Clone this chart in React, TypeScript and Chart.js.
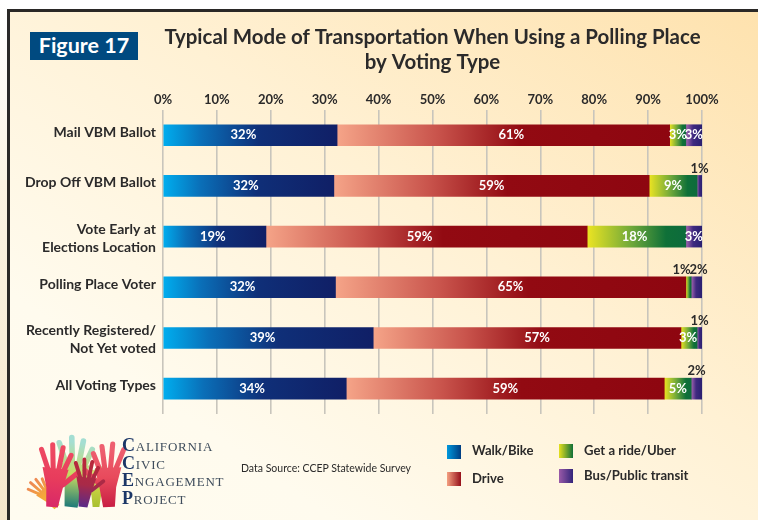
import React, { useEffect, useRef } from "react";
import { Chart, registerables } from "chart.js";

Chart.register(...registerables);

const categories: (string | string[])[] = [
  "Mail VBM Ballot",
  "Drop Off VBM Ballot",
  ["Vote Early at", "Elections Location"],
  "Polling Place Voter",
  ["Recently Registered/", "Not Yet voted"],
  "All Voting Types",
];

const walkBike = [32.3, 31.7, 19.1, 32, 39, 34];
const drive = [61.7, 58.5, 59.6, 65, 57.1, 59];
const getRide = [3, 8.9, 18.3, 1, 3, 5];
const busTransit = [3, 0.9, 3, 2, 0.9, 2];

const walkLabels = ["32%", "32%", "19%", "32%", "39%", "34%"];
const driveLabels = ["61%", "59%", "59%", "65%", "57%", "59%"];
const rideLabels = ["3%", "9%", "18%", "1%", "3%", "5%"];
const busLabels = ["3%", "1%", "3%", "2%", "1%", "2%"];

const seriesNames = ["Walk/Bike", "Drive", "Get a ride/Uber", "Bus/Public transit"];
const seriesValues = [walkBike, drive, getRide, busTransit];
const seriesLabels = [walkLabels, driveLabels, rideLabels, busLabels];

const gradientStops: [number, string][][] = [
  [[0, "#00aeef"], [0.22, "#0a6fb8"], [0.55, "#0f2f78"], [1, "#101f66"]],
  [[0, "#f5a488"], [0.3, "#c9544c"], [0.55, "#920a12"], [1, "#8e0610"]],
  [[0, "#ece422"], [0.45, "#6fa83a"], [0.8, "#0f7038"], [1, "#0d6b3c"]],
  [[0, "#a565b0"], [0.45, "#3f2a80"], [1, "#2a1f70"]],
];

// label placement: [series][row] = horizontal nudge from the segment's centre
const labelNudge = [
  [-7, -3, -2, -7, -6, -3],
  [8, 0, -7, 0, 10, 0],
  [0, 0, -2, -7, -1, 0],
  [0, 0, 0, 2, 0, 0],
];
// rows whose label sits above the bar, by series
const labelsAbove = [
  [false, false, false, false, false, false],
  [false, false, false, false, false, false],
  [false, false, false, true, false, false],
  [false, true, false, true, true, true],
];
// vertical nudge of each category label from its bar's centre
const categoryNudge = [-3, -3.5, 2, -3, 1.5, -3.5];

const FONT = "Lato, Carlito, sans-serif";
const INK = "#2b2a2a";

const categoryLabelPlugin = {
  id: "categoryLabelNudge",
  beforeDraw(chart: any) {
    const y = chart.scales.y;
    y.getLabelItems().forEach((item: any, i: number) => {
      const [tx] = item.options.translation;
      item.options.translation = [tx, y.getPixelForTick(i) + categoryNudge[i]];
    });
  },
};

const valueLabelPlugin = {
  id: "valueLabels",
  afterDatasetsDraw(chart: any) {
    const { ctx } = chart;
    ctx.save();
    ctx.font = `bold 13px ${FONT}`;
    ctx.textAlign = "center";
    ctx.textBaseline = "middle";
    chart.data.datasets.forEach((_: any, s: number) => {
      const meta = chart.getDatasetMeta(s);
      meta.data.forEach((bar: any, i: number) => {
        const above = labelsAbove[s][i];
        const x = (bar.x + bar.base) / 2 + labelNudge[s][i];
        const y = above ? bar.y - bar.height / 2 - 7 : bar.y;
        ctx.fillStyle = above ? INK : "#ffffff";
        ctx.fillText(seriesLabels[s][i], x, y);
      });
    });
    ctx.restore();
  },
};

function segmentFill(s: number) {
  return (c: any) => {
    const scale = c.chart.scales.x;
    if (!scale || c.dataIndex === undefined) return gradientStops[s][0][1];
    let start = 0;
    for (let k = 0; k < s; k++) start += seriesValues[k][c.dataIndex];
    const end = start + seriesValues[s][c.dataIndex];
    const x0 = scale.getPixelForValue(start);
    const x1 = scale.getPixelForValue(end);
    if (!Number.isFinite(x0) || !Number.isFinite(x1)) return gradientStops[s][0][1];
    const g = c.chart.ctx.createLinearGradient(x0, 0, x1, 0);
    gradientStops[s].forEach(([p, col]) => g.addColorStop(p, col));
    return g;
  };
}

const swatches = [
  { name: seriesNames[0], x: 447, y: 445, tx: 472, ty: 450, bg: "linear-gradient(90deg,#0098dc,#003d82)" },
  { name: seriesNames[1], x: 447, y: 472, tx: 472, ty: 478, bg: "linear-gradient(90deg,#f4a080,#96101a)" },
  { name: seriesNames[2], x: 559, y: 444, tx: 584, ty: 450, bg: "linear-gradient(90deg,#e6e01e,#0f7038)" },
  { name: seriesNames[3], x: 559, y: 469, tx: 584, ty: 475, bg: "linear-gradient(90deg,#9a5aa8,#33257a)" },
];

const logoWords = ["CALIFORNIA", "CIVIC", "ENGAGEMENT", "PROJECT"];

type HandSpec = { x: number; rot: number; s: number; mirror?: boolean; top: string; mid: string; bottom: string; id: string };
const hands: HandSpec[] = [
  { id: "h1", x: 57, rot: -42, s: 0.56, top: "#ee8a52", mid: "#f4a83a", bottom: "#f0c030" },
  { id: "h3", x: 71, rot: 6, s: 1.08, top: "#a4ded2", mid: "#c8dc60", bottom: "#1f7a78" },
  { id: "h6", x: 96, rot: 0, s: 0.56, top: "#d8dc70", mid: "#c4d040", bottom: "#a8c030" },
  { id: "h2", x: 52, rot: 6, s: 0.97, top: "#ee4a62", mid: "#e83c5c", bottom: "#d82868" },
  { id: "h5", x: 109, rot: -2, s: 0.98, mirror: true, top: "#ee6070", mid: "#e84a5c", bottom: "#c81f44" },
  { id: "h4", x: 83, rot: 7, s: 0.74, top: "#b8283c", mid: "#a82a48", bottom: "#5a2a88" },
];

function Hand({ h }: { h: HandSpec }) {
  const paint = `url(#${h.id})`;
  const fingers: [number, number, number, number][] = [
    [-8, -38, -17, -58],
    [-3, -40, -6, -64],
    [3, -40, 5, -62],
    [8, -38, 14, -55],
    [9, -24, 23, -38],
  ];
  const sx = h.mirror ? -h.s : h.s;
  return (
    <g transform={`translate(${h.x} 507) rotate(${h.rot}) scale(${sx} ${h.s})`}>
      <defs>
        <linearGradient id={h.id} gradientUnits="userSpaceOnUse" x1="0" y1="-60" x2="0" y2="0">
          <stop offset="0" stopColor={h.top} />
          <stop offset="0.5" stopColor={h.mid} />
          <stop offset="1" stopColor={h.bottom} />
        </linearGradient>
      </defs>
      <path d="M-6 0 L-8 -20 L-14 -40 L13 -40 L9 -20 L6 0 Z" fill={paint} />
      {fingers.map((f, i) => (
        <line key={i} x1={f[0]} y1={f[1]} x2={f[2]} y2={f[3]} stroke={paint} strokeWidth={5.2} strokeLinecap="round" />
      ))}
    </g>
  );
}

export default function App() {
  const ref = useRef<HTMLCanvasElement>(null);

  useEffect(() => {
    document.body.style.margin = "0";
    const chart = new Chart(ref.current!, {
      type: "bar",
      plugins: [categoryLabelPlugin, valueLabelPlugin],
      data: {
        labels: categories as any,
        datasets: seriesNames.map((name, s) => ({
          label: name,
          data: seriesValues[s],
          backgroundColor: segmentFill(s),
          borderWidth: 0,
          barThickness: 21,
        })),
      },
      options: {
        indexAxis: "y",
        animation: false,
        responsive: false,
        layout: { padding: { top: 0, right: 56, bottom: 106, left: 0 } },
        plugins: {
          legend: { display: false },
          tooltip: { enabled: false },
          title: {
            display: true,
            text: ["Typical Mode of Transportation When Using a Polling Place", "by Voting Type"],
            fullSize: false,
            color: INK,
            font: { family: FONT, size: 20.45, weight: "bold", lineHeight: 1.22 },
            padding: { top: 25, bottom: 0 },
          },
        },
        scales: {
          x: {
            type: "linear",
            position: "top",
            stacked: true,
            min: 0,
            max: 100,
            ticks: {
              stepSize: 10,
              callback: (v: any) => `${v}%`,
              color: INK,
              font: { family: FONT, size: 13, weight: "bold" },
              padding: 2,
              maxRotation: 0,
            },
            grid: { color: "#c8c5bc", lineWidth: 1.6, drawTicks: false },
            border: { display: false },
            afterFit: (a: any) => { a.height = 35; },
          },
          y: {
            type: "category",
            stacked: true,
            ticks: {
              color: INK,
              font: { family: FONT, size: 14, weight: "bold", lineHeight: 1.33 },
              padding: 7,
              autoSkip: false,
            },
            grid: { display: false, drawTicks: false },
            border: { display: false },
            afterFit: (a: any) => { a.width = 163; },
          },
        },
      } as any,
    });
    return () => chart.destroy();
  }, []);

  const abs: React.CSSProperties = { position: "absolute" };
  return (
    <div style={{ position: "fixed", left: 0, top: 0, width: 758, height: 520, overflow: "hidden", background: "#fff", fontFamily: FONT }}>
      <div style={{ ...abs, left: 0, top: 0, width: 8, height: 520, background: "linear-gradient(180deg,#ffffff 0%,#fbf3e3 35%,#f5e6cb 100%)" }} />
      <div style={{ ...abs, left: 7, top: 9, right: 0, bottom: 0, boxSizing: "border-box", borderLeft: "3px solid #2a2826", borderTop: "3px solid #2a2826", background: "linear-gradient(215deg,#fee2ae 0%,#fff1d4 42%,#fffbee 78%,#fffcf0 100%)" }} />
      <div style={{ ...abs, left: 30, top: 32, width: 108, height: 28, background: "#004a80", color: "#fff", fontSize: 21.5, fontWeight: 700, lineHeight: "27px", textAlign: "center" }}>Figure 17</div>
      <canvas ref={ref} width={758} height={520} style={{ ...abs, left: 0, top: 0, display: "block" }} />
      <svg width={758} height={520} style={{ ...abs, left: 0, top: 0, pointerEvents: "none" }}>
        {hands.map((h) => <Hand key={h.id} h={h} />)}
      </svg>
      {logoWords.map((w, i) => (
        <div key={w} style={{ ...abs, left: 122, top: 436 + i * 17.7, height: 18, lineHeight: "18px", whiteSpace: "nowrap", fontFamily: "'Liberation Serif', serif", color: "#3f4d5c", fontSize: 13, letterSpacing: 0.8 }}>
          <span style={{ color: "#1c3767", fontSize: 18, fontWeight: 700 }}>{w[0]}</span>
          <span>{w.slice(1)}</span>
        </div>
      ))}
      <div style={{ ...abs, left: 241, top: 461, fontSize: 10.5, lineHeight: "14px", color: "#2b2a2a", whiteSpace: "nowrap" }}>Data Source: CCEP Statewide Survey</div>
      {swatches.map((l) => (
        <React.Fragment key={l.name}>
          <div style={{ ...abs, left: l.x, top: l.y, width: 14, height: 14, background: l.bg }} />
          <div style={{ ...abs, left: l.tx, top: l.ty - 9, height: 18, lineHeight: "18px", fontSize: 13.1, fontWeight: 700, color: INK, whiteSpace: "nowrap" }}>{l.name}</div>
        </React.Fragment>
      ))}
    </div>
  );
}
